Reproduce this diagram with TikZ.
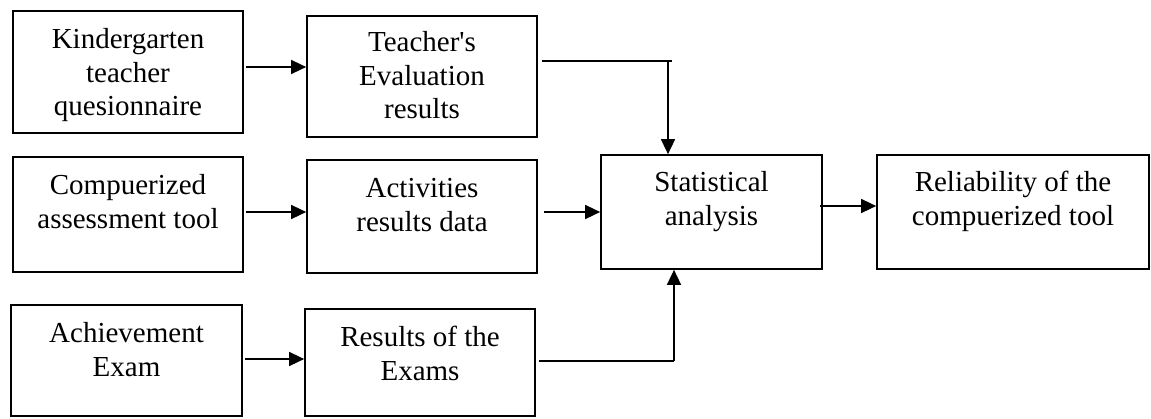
\documentclass[tikz,border=0pt]{standalone}
\usepackage{fontspec}
\setmainfont{Liberation Serif}[Ligatures=TeXOff]
\usetikzlibrary{arrows.meta}
\begin{document}
\begin{tikzpicture}[x=1pt,y=-1pt,
  box/.style={draw,line width=1.7pt,inner sep=0pt},
  txt/.style={align=center,inner sep=0pt,font=\fontsize{29}{33.5}\selectfont},
  link/.style={line width=1.5pt},
  flow/.style={line width=1.5pt,-{Triangle[length=15pt,width=14pt]}}]
\useasboundingbox (0,0) rectangle (1151,418);

% boxes (named by their centres and sizes)
\node[box,minimum width=230pt,minimum height=122pt] (b1) at (128,72) {};
\node[box,minimum width=230pt,minimum height=121pt] (b2) at (422,76.5) {};
\node[box,minimum width=230pt,minimum height=115pt] (b3) at (128,214.5) {};
\node[box,minimum width=230pt,minimum height=113pt] (b4) at (422,216.5) {};
\node[box,minimum width=231pt,minimum height=111pt] (b5) at (126.5,360.5) {};
\node[box,minimum width=230pt,minimum height=107pt] (b6) at (420,362.5) {};
\node[box,minimum width=221pt,minimum height=114pt] (b7) at (711.5,212) {};
\node[box,minimum width=272pt,minimum height=114pt] (b8) at (1013,212) {};

% box texts, set from the top of each box
\node[txt,anchor=north] (t1) at ([yshift=-15pt]b1.north) {\strut Kindergarten\\teacher\\quesionnaire};
\node[txt,anchor=north] (t2) at ([yshift=-13pt]b2.north) {\strut Teacher's\\Evaluation\\results};
\node[txt,anchor=north] (t3) at ([yshift=-15pt]b3.north) {\strut Compuerized\\assessment tool};
\node[txt,anchor=north] (t4) at ([yshift=-15pt]b4.north) {\strut Activities\\results data};
\node[txt,anchor=north] (t5) at ([yshift=-15pt]b5.north) {\strut Achievement\\Exam};
\node[txt,anchor=north] (t6) at ([yshift=-15pt]b6.north) {\strut Results of the\\Exams};
\node[txt,anchor=north] (t7) at ([yshift=-14pt]b7.north) {\strut Statistical\\analysis};
\node[txt,anchor=north] (t8) at ([yshift=-14pt]b8.north) {\strut Reliability of the\\compuerized tool};

% heights of the horizontal connectors
\coordinate (y1) at (0,67);
\coordinate (y2) at (0,212);
\coordinate (y3) at (0,359);
\coordinate (y8) at (0,206);
\coordinate (j1) at (668,61);
\coordinate (j3) at (674,361);

% first column to second column
\draw[flow] ([xshift=2pt]b1.east |- y1) -- (b2.west |- y1);
\draw[flow] ([xshift=2pt]b3.east |- y2) -- (b4.west |- y2);
\draw[flow] ([xshift=2pt]b5.east |- y3) -- (b6.west |- y3);

% second column into the analysis box
\draw[link] ([xshift=4pt]b2.east |- j1) -- ([xshift=4pt]j1);
\draw[flow] (j1) -- (j1 |- b7.north);
\draw[flow] ([xshift=6pt]b4.east |- b7.west) -- (b7.west);
\draw[link] ([xshift=3pt]b6.east |- j3) -- (j3);
\draw[flow] (j3) -- (j3 |- b7.south);

% analysis to result
\draw[flow] ([xshift=-3pt]b7.east |- y8) -- (b8.west |- y8);
\end{tikzpicture}
\end{document}
